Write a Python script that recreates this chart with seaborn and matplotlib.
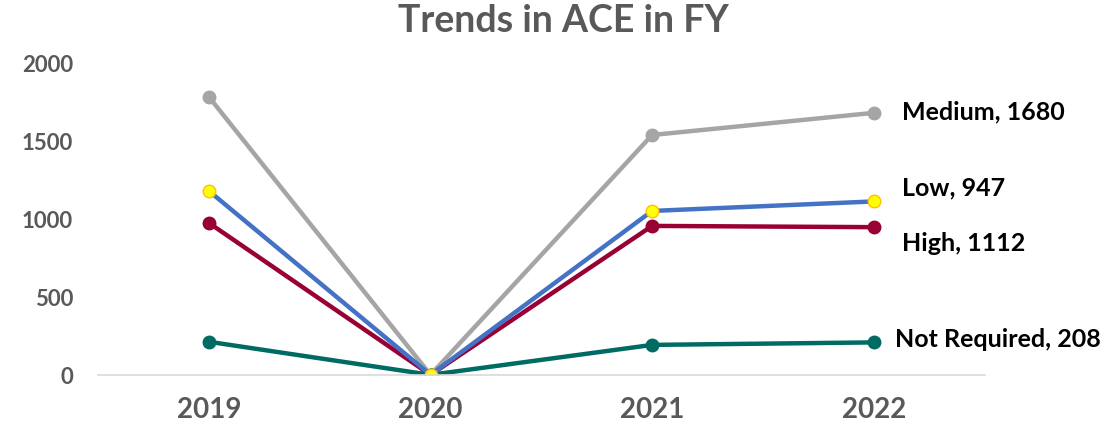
import matplotlib
matplotlib.use("Agg")
import matplotlib.pyplot as plt
import pandas as pd
import seaborn as sns

years = ["2019", "2020", "2021", "2022"]
medium = [1782, 0, 1538, 1680]
low = [1179, 0, 1051, 1112]
high = [974, 0, 955, 947]
not_required = [212, 0, 192, 208]

# end labels as written on the original chart
end_labels = {
    "Medium": "Medium, 1680",
    "Low": "Low, 947",
    "High": "High, 1112",
    "Not Required": "Not Required, 208",
}

series = {"Medium": medium, "High": high, "Not Required": not_required, "Low": low}
colors = {"Medium": "#A5A5A5", "Low": "#4472C4", "High": "#990033", "Not Required": "#006B63"}
offsets = {"Medium": (28, 2), "Low": (28, 15), "High": (28, -15), "Not Required": (21, 4)}

df = pd.DataFrame(
    [(lvl, i, v) for lvl, vals in series.items() for i, v in enumerate(vals)],
    columns=["level", "pos", "value"],
)

sns.set_theme(style="white")
plt.rcParams["font.family"] = ["Lato", "DejaVu Sans"]

fig = plt.figure(figsize=(11.15, 4.35), dpi=100)
ax = fig.add_axes([0.088, 0.136, 0.795, 0.717])

for lvl in series:
    sub = df[df["level"] == lvl]
    face = "#FFFF00" if lvl == "Low" else colors[lvl]
    edge = "#FFC000" if lvl == "Low" else colors[lvl]
    sns.lineplot(data=sub, x="pos", y="value", color=colors[lvl], lw=3.2,
                 marker="o", markersize=9, markerfacecolor=face,
                 markeredgecolor=edge, markeredgewidth=1, ax=ax, legend=False)
    last = sub.iloc[-1]
    ax.annotate(end_labels[lvl], (last["pos"], last["value"]),
                xytext=offsets[lvl], textcoords="offset pixels",
                ha="left", va="center", fontsize=18, fontweight="bold",
                color="black", annotation_clip=False)

ax.set_xlim(-0.5, 3.5)
ax.set_ylim(0, 2000)
ax.set_xticks(range(len(years)))
ax.set_xticklabels(years, fontsize=20, fontweight="bold", color="#595959")
ax.set_yticks([0, 500, 1000, 1500, 2000])
ax.set_yticklabels(["0", "500", "1000", "1500", "2000"], fontsize=16,
                   fontweight="bold", color="#595959")
ax.tick_params(axis="x", length=0, pad=15)
ax.tick_params(axis="y", length=0, pad=18)
ax.set_xlabel("")
ax.set_ylabel("")
for side in ["top", "right", "left"]:
    ax.spines[side].set_visible(False)
ax.spines["bottom"].set_color("#D9D9D9")
ax.spines["bottom"].set_linewidth(1.2)

fig.suptitle("Trends in ACE in FY", x=0.505, y=0.99, fontsize=27,
             fontweight="bold", color="#595959")

fig.savefig("out.png", dpi=100)
